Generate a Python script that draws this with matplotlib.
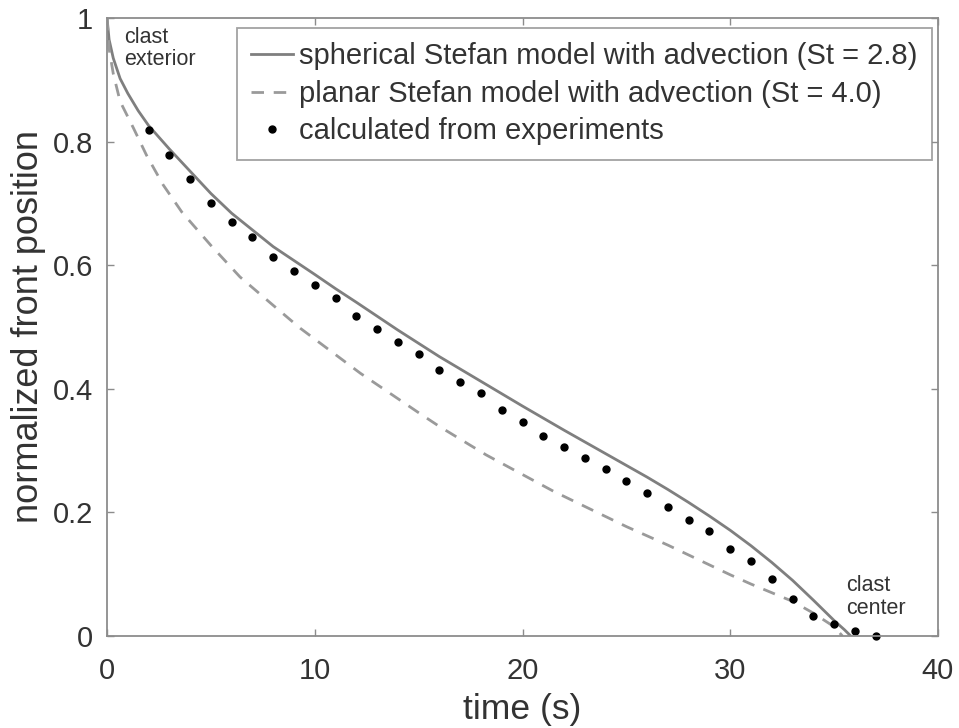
import matplotlib.pyplot as plt
import numpy as np

# experimental points (time in s, normalized front position)
exp_t = [2, 3, 4, 5, 6, 7, 8, 9, 10, 11, 12, 13, 14, 15, 16, 17, 18, 19,
         20, 21, 22, 23, 24, 25, 26, 27, 28, 29, 30, 31, 32, 33, 34, 35, 36, 37]
exp_pos = [0.819, 0.779, 0.739, 0.701, 0.670, 0.646, 0.613, 0.591, 0.568,
           0.547, 0.517, 0.496, 0.475, 0.456, 0.430, 0.411, 0.393, 0.365,
           0.347, 0.324, 0.305, 0.288, 0.270, 0.251, 0.232, 0.208, 0.188,
           0.170, 0.140, 0.122, 0.093, 0.060, 0.033, 0.019, 0.008, 0.0]

# spherical Stefan model (St = 2.8)
sph_t = [0, 0.1, 0.3, 0.63, 1, 1.5, 2, 3, 4, 5, 6, 8, 10, 11, 12, 14, 16,
         17, 18, 20, 22, 24, 26, 27, 28, 29, 30, 31, 32, 33, 34, 35, 35.5, 35.8]
sph_pos = [1.0, 0.965, 0.935, 0.902, 0.878, 0.850, 0.826, 0.788, 0.752,
           0.716, 0.684, 0.630, 0.585, 0.562, 0.540, 0.495, 0.452, 0.432,
           0.412, 0.372, 0.333, 0.295, 0.257, 0.237, 0.216, 0.194, 0.171,
           0.146, 0.119, 0.090, 0.058, 0.025, 0.010, 0.0]

# planar Stefan model (St = 4.0)
pla_t = [0, 0.1, 0.3, 0.63, 1.27, 1.9, 2.7, 3.6, 5, 6.4, 8, 9.3, 12.2, 15.1,
         16, 18.25, 21.5, 25, 26, 27, 28, 29, 30, 31, 32, 33, 34, 35, 35.4]
pla_pos = [1.0, 0.950, 0.910, 0.865, 0.822, 0.778, 0.730, 0.686, 0.632,
           0.581, 0.535, 0.498, 0.425, 0.359, 0.339, 0.293, 0.234, 0.177,
           0.162, 0.147, 0.131, 0.115, 0.099, 0.084, 0.070, 0.056, 0.037,
           0.015, 0.0]

text_col = '#333333'
frame_col = '#8c8c8c'

plt.rcParams['font.family'] = ['Liberation Sans', 'DejaVu Sans']

fig = plt.figure(figsize=(9.59, 7.28), dpi=100)
ax = fig.add_axes([0.1116, 0.1264, 0.8665, 0.8489])

ax.plot(sph_t, sph_pos, color='#7f7f7f', lw=2.0,
        label='spherical Stefan model with advection (St = 2.8)')
ax.plot(pla_t, pla_pos, color='#9a9a9a', lw=2.0, ls=(0, (4.5, 3.5)),
        label='planar Stefan model with advection (St = 4.0)')
ax.plot(exp_t, exp_pos, ls='none', marker='o', ms=5, color='black',
        label='calculated from experiments', clip_on=False)

ax.set_xlim(0, 40)
ax.set_ylim(0, 1)
ax.set_xticks([0, 10, 20, 30, 40])
ax.set_yticks([0, 0.2, 0.4, 0.6, 0.8, 1])
ax.set_yticklabels(['0', '0.2', '0.4', '0.6', '0.8', '1'])
ax.tick_params(direction='in', top=True, right=True, length=5, width=1,
               color=frame_col, labelsize=21, labelcolor=text_col)
ax.tick_params(axis='x', pad=15)
ax.tick_params(axis='y', pad=10)
for s in ax.spines.values():
    s.set_color(frame_col)
    s.set_linewidth(1.3)

ax.set_xlabel('time (s)', fontsize=25.5, color=text_col, labelpad=6)
ax.set_ylabel('normalized front position', fontsize=26, color=text_col, labelpad=5)

ax.text(0.82, 0.985, 'clast\nexterior', fontsize=15.5, color=text_col,
        va='top', ha='left', linespacing=1.05)
ax.text(35.6, 0.098, 'clast\ncenter', fontsize=15.5, color=text_col,
        va='top', ha='left', linespacing=1.1)

leg = ax.legend(loc='upper right', bbox_to_anchor=(0.993, 0.984), fontsize=21,
                frameon=True, fancybox=False, handlelength=1.45, handletextpad=0.2,
                labelspacing=0.32, borderpad=0.5, borderaxespad=0, numpoints=1)
leg.get_frame().set_edgecolor(frame_col)
leg.get_frame().set_linewidth(1.3)
for t in leg.get_texts():
    t.set_color(text_col)

fig.savefig('out.png', dpi=100)
